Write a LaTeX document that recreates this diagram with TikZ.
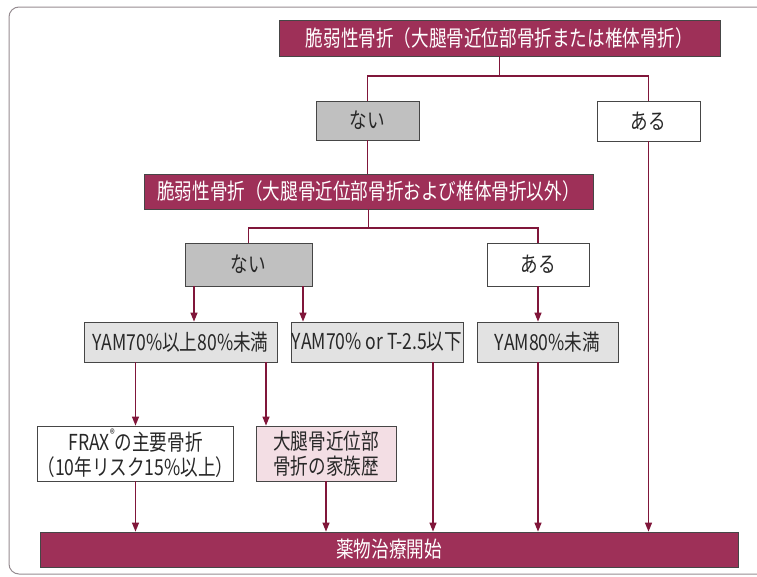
\documentclass[tikz,border=0pt]{standalone}
\usepackage{fontspec}
\setmainfont[FakeStretch=0.8]{Noto Sans CJK JP}
\usetikzlibrary{arrows.meta}
\definecolor{redfill}{RGB}{158,48,88}
\definecolor{lineclr}{RGB}{128,22,58}
\definecolor{boxline}{RGB}{70,70,70}
\definecolor{txt}{RGB}{40,40,40}
\definecolor{darkfill}{RGB}{192,192,192}
\definecolor{lightfill}{RGB}{226,226,226}
\definecolor{pinkfill}{RGB}{243,222,228}
\definecolor{framecol}{RGB}{150,140,145}
\tikzset{
  box/.style={draw=boxline, line width=0.8pt, inner sep=0pt, align=center, text=txt,
    font=\fontsize{22}{25}\selectfont},
  redbox/.style={box, fill=redfill, text=white},
  darkbox/.style={box, fill=darkfill},
  lightbox/.style={box, fill=lightfill},
  whitebox/.style={box, fill=white},
  pinkbox/.style={box, fill=pinkfill},
  conn/.style={draw=lineclr, line width=1.2pt},
  arr/.style={conn, -{Triangle[length=9pt,width=7pt]}},
}
\begin{document}
\begin{tikzpicture}[x=1pt,y=-1pt]
\useasboundingbox (0,0) rectangle (757,576);
\draw[framecol, line width=1pt, rounded corners=10pt] (757,7) -- (9,7) -- (9,574) -- (757,574);

\node[redbox, minimum width=441pt, minimum height=36pt] (top) at (499.5,38) {脆弱性骨折（大腿骨近位部骨折または椎体骨折）};
\node[darkbox, minimum width=103pt, minimum height=39pt] (nai1) at (367.5,120.5) {ない};
\node[whitebox, minimum width=103pt, minimum height=40pt] (aru1) at (648.5,121) {ある};
\node[redbox, minimum width=449pt, minimum height=35pt] (red2) at (368.5,191.5) {脆弱性骨折（大腿骨近位部骨折および椎体骨折以外）};
\node[darkbox, minimum width=127pt, minimum height=43pt] (nai2) at (248.5,264.5) {ない};
\node[whitebox, minimum width=102pt, minimum height=43pt] (aru2) at (538,264.5) {ある};
\node[lightbox, minimum width=193pt, minimum height=40pt] (yam1) at (180.5,342) {YAM70\%以上80\%未満};
\node[lightbox, minimum width=172pt, minimum height=40pt] (yam2) at (377,342) {YAM70\% or T-2.5以下};
\node[lightbox, minimum width=141pt, minimum height=40pt] (yam3) at (547.5,342) {YAM80\%未満};
\node[whitebox, minimum width=193pt, minimum height=55pt] (frax) at (135.5,453.5) {FRAX\raisebox{0.55em}{\scalebox{0.55}{®}}の主要骨折\\（10年リスク15\%以上）};
\node[pinkbox, minimum width=140pt, minimum height=55pt] (fam) at (326,453.5) {大腿骨近位部\\骨折の家族歴};
\node[redbox, minimum width=698pt, minimum height=35pt] (bar) at (389,549.5) {薬物治療開始};

\coordinate (j1) at (499.5,76);
\coordinate (j2) at (368.5,228);
\coordinate (cB) at (194,0);
\coordinate (cC) at (266,0);
\coordinate (cD) at (303,0);
\coordinate (cF) at (433,0);

\draw[conn] (top.south) -- (j1);
\draw[conn] (j1) -| (nai1.north);
\draw[conn] (j1) -| (aru1.north);
\draw[conn] (nai1.south) -- (red2.north -| nai1.south);
\draw[conn] (red2.south) -- (j2);
\draw[conn] (j2) -| (nai2.north);
\draw[conn] (j2) -| (aru2.north);

\draw[arr] (nai2.south -| cB) -- (yam1.north -| cB);
\draw[arr] (nai2.south -| cD) -- (yam2.north -| cD);
\draw[arr] (aru2.south) -- (yam3.north -| aru2.south);
\draw[arr] (yam1.south -| frax.north) -- (frax.north);
\draw[arr] (yam1.south -| cC) -- (fam.north -| cC);

\draw[arr] (frax.south) -- (bar.north -| frax.south);
\draw[arr] (fam.south) -- (bar.north -| fam.south);
\draw[arr] (yam2.south -| cF) -- (bar.north -| cF);
\draw[arr] (yam3.south -| aru2.south) -- (bar.north -| aru2.south);
\draw[arr] (aru1.south) -- (bar.north -| aru1.south);
\end{tikzpicture}
\end{document}
